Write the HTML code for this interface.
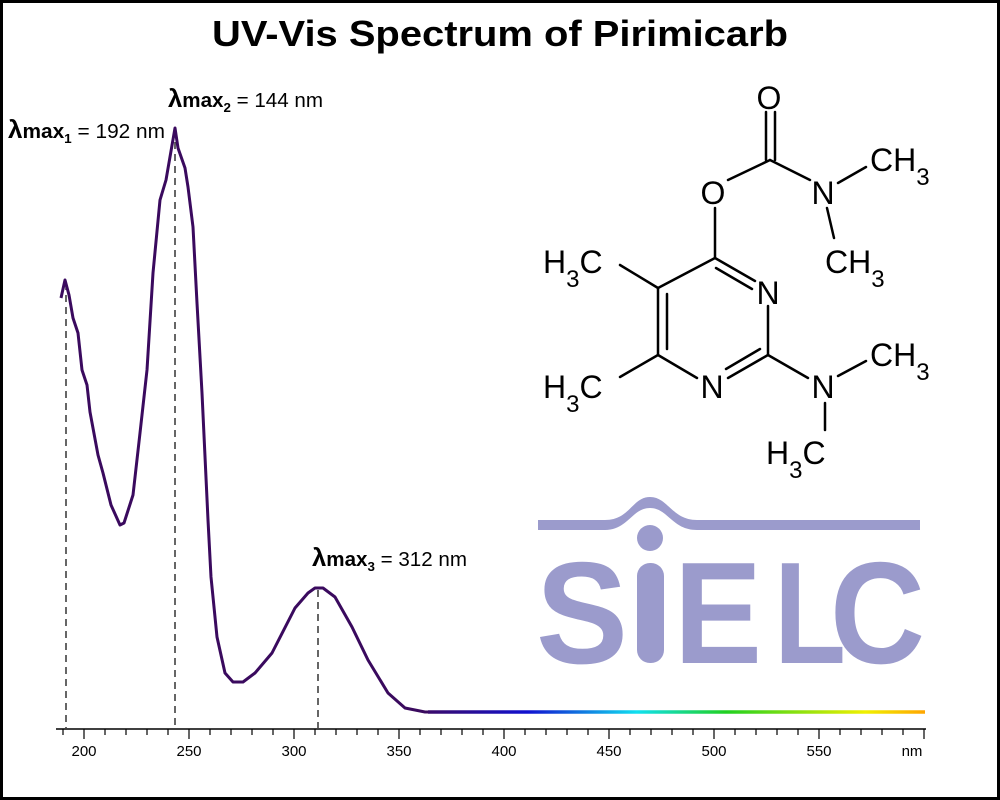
<!DOCTYPE html>
<html><head><meta charset="utf-8"><style>
html,body{margin:0;padding:0;background:#fff}
svg{display:block}
text{font-family:"Liberation Sans",sans-serif}
</style></head><body>
<svg width="1000" height="800" viewBox="0 0 1000 800" xmlns="http://www.w3.org/2000/svg">
<defs>
<linearGradient id="g" x1="428" y1="0" x2="925" y2="0" gradientUnits="userSpaceOnUse">
<stop offset="0" stop-color="#3a0a6a"/>
<stop offset="0.2" stop-color="#1010d0"/>
<stop offset="0.42" stop-color="#10e0f0"/>
<stop offset="0.6" stop-color="#20d020"/>
<stop offset="0.88" stop-color="#f0f000"/>
<stop offset="1" stop-color="#ffa500"/>
</linearGradient>
</defs>
<rect x="1.5" y="1.5" width="997" height="797" fill="#fff" stroke="#000" stroke-width="3"/>
<text x="212" y="46" font-size="36" font-weight="bold" textLength="576" lengthAdjust="spacingAndGlyphs">UV-Vis Spectrum of Pirimicarb</text>

<!-- SIELC logo -->
<g fill="#9b9bcc">
<path d="M538,520 L605,520 C630,520 632,497 650,497 C668,497 672,520 697,520 L920,520 L920,530 L697,530 C672,530 668,508 650,508 C632,508 628,530 605,530 L538,530 Z"/>
<circle cx="650" cy="538" r="13"/>
<rect x="637" y="563" width="27" height="100" rx="13"/>
<text x="536" y="663" font-size="145" font-weight="bold" textLength="92" lengthAdjust="spacingAndGlyphs">S</text>
<text x="674" y="663" font-size="145" font-weight="bold" textLength="88" lengthAdjust="spacingAndGlyphs">E</text>
<text x="774" y="663" font-size="145" font-weight="bold" textLength="72" lengthAdjust="spacingAndGlyphs">L</text>
<text x="830" y="663" font-size="145" font-weight="bold" textLength="95" lengthAdjust="spacingAndGlyphs">C</text>
</g>

<!-- dashed lines -->
<g stroke="#333" stroke-width="1.5" stroke-dasharray="7,5">
<line x1="66" y1="283" x2="66" y2="728"/>
<line x1="175" y1="130" x2="175" y2="728"/>
<line x1="318" y1="590" x2="318" y2="728"/>
</g>

<!-- spectrum -->
<polyline fill="none" stroke="#3a0a5e" stroke-width="3" stroke-linejoin="round" points="61,298 65,280 69,295 73,318 78,333 82,370 87,385 90,412 98,455 103,473 111,505 120,525 124,523 133,495 140,433 147,370 153,273 160,200 166,180 175,128 178,148 185,168 188,187 193,227 197,303 202,393 208,520 211,577 217,637 225,673 233,682 243,682 255,673 272,653 295,608 308,593 315,588 323,588 335,597 352,627 368,660 388,693 405,708 425,712 430,712"/>
<line x1="428" y1="712" x2="925" y2="712" stroke="url(#g)" stroke-width="3.5"/>

<!-- axis -->
<line x1="56" y1="729" x2="926" y2="729" stroke="#000" stroke-width="1.5"/>
<g stroke="#000" stroke-width="1.2" id="ticks"></g>
<g font-size="15" text-anchor="middle">
<text x="84" y="756">200</text><text x="189" y="756">250</text><text x="294" y="756">300</text>
<text x="399" y="756">350</text><text x="504" y="756">400</text><text x="609" y="756">450</text>
<text x="714" y="756">500</text><text x="819" y="756">550</text><text x="912" y="756">nm</text>
</g>

<!-- labels -->
<g font-size="20">
<text x="8" y="138" textLength="157" lengthAdjust="spacingAndGlyphs"><tspan font-size="25" font-weight="bold">λ</tspan><tspan font-weight="bold">max</tspan><tspan font-weight="bold" font-size="13" dy="5">1</tspan><tspan dy="-5"> = 192 nm</tspan></text>
<text x="168" y="107" textLength="155" lengthAdjust="spacingAndGlyphs"><tspan font-size="25" font-weight="bold">λ</tspan><tspan font-weight="bold">max</tspan><tspan font-weight="bold" font-size="13" dy="5">2</tspan><tspan dy="-5"> = 144 nm</tspan></text>
<text x="312" y="566" textLength="155" lengthAdjust="spacingAndGlyphs"><tspan font-size="25" font-weight="bold">λ</tspan><tspan font-weight="bold">max</tspan><tspan font-weight="bold" font-size="13" dy="5">3</tspan><tspan dy="-5"> = 312 nm</tspan></text>
</g>

<!-- molecule -->
<g stroke="#000" stroke-width="2.5" fill="none" stroke-linecap="round">
<line x1="715" y1="258" x2="755" y2="281"/>
<line x1="716" y1="268" x2="752" y2="289"/>
<line x1="768" y1="306" x2="768" y2="355"/>
<line x1="768" y1="355" x2="728" y2="378"/>
<line x1="760" y1="349" x2="726" y2="369"/>
<line x1="697" y1="378" x2="658" y2="355"/>
<line x1="658" y1="355" x2="658" y2="288"/>
<line x1="667" y1="349" x2="667" y2="294"/>
<line x1="658" y1="288" x2="715" y2="258"/>
<line x1="715" y1="258" x2="715" y2="208"/>
<line x1="728" y1="180" x2="770" y2="160"/>
<line x1="766" y1="160" x2="766" y2="112"/>
<line x1="775" y1="160" x2="775" y2="112"/>
<line x1="770" y1="160" x2="810" y2="180"/>
<line x1="838" y1="183" x2="866" y2="167"/>
<line x1="827" y1="208" x2="834" y2="238"/>
<line x1="658" y1="288" x2="620" y2="265"/>
<line x1="658" y1="355" x2="620" y2="377"/>
<line x1="768" y1="355" x2="808" y2="378"/>
<line x1="838" y1="376" x2="866" y2="361"/>
<line x1="825" y1="403" x2="825" y2="430"/>
</g>
<g font-size="32" text-anchor="middle">
<text x="768" y="304">N</text>
<text x="712" y="398">N</text>
<text x="713" y="204">O</text>
<text x="769" y="109">O</text>
<text x="823" y="204">N</text>
<text x="823" y="398">N</text>
</g>
<g font-size="32">
<text x="870" y="171">CH<tspan font-size="24" dy="14">3</tspan></text>
<text x="825" y="273">CH<tspan font-size="24" dy="14">3</tspan></text>
<text x="870" y="366">CH<tspan font-size="24" dy="14">3</tspan></text>
<text x="543" y="273">H<tspan font-size="24" dy="14">3</tspan><tspan dy="-14">C</tspan></text>
<text x="543" y="398">H<tspan font-size="24" dy="14">3</tspan><tspan dy="-14">C</tspan></text>
<text x="766" y="464">H<tspan font-size="24" dy="14">3</tspan><tspan dy="-14">C</tspan></text>
</g>
<script>
var g=document.getElementById('ticks');
for(var n=190;n<=600;n+=10){var x=84+(n-200)*2.1;var l=document.createElementNS('http://www.w3.org/2000/svg','line');l.setAttribute('x1',x);l.setAttribute('x2',x);l.setAttribute('y1',729);l.setAttribute('y2',(n%50==0||n==600)?739:735);g.appendChild(l);}
</script>
</svg>
</body></html>
